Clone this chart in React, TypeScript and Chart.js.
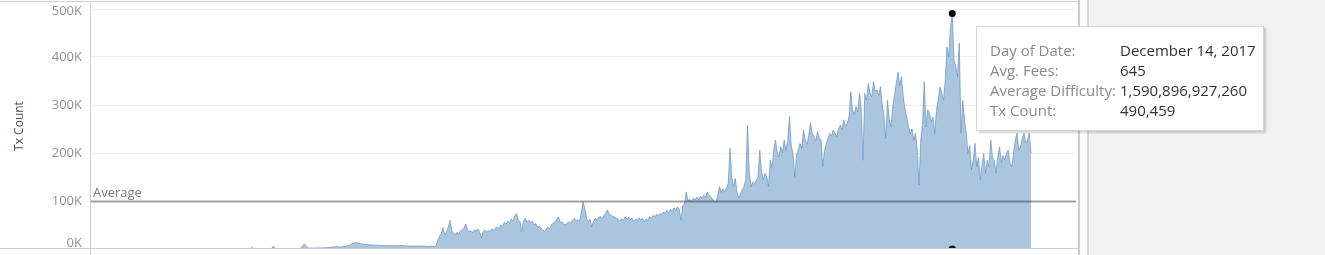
import React, { useEffect, useRef } from "react";
import { Chart, registerables } from "chart.js";

Chart.register(...registerables);

// Weekly samples of daily transaction count (thousands), starting 2009-01-03
const START_DATE = "2009-01-03";
const STEP_DAYS = 7;
const txCountK: number[] = [
  // 2009
  0, 0, 0.1, 0.1, 0.1, 0.1, 0.1, 0.1, 0.1, 0.1, 0.1, 0.1, 0.1, 0.1, 0.1, 0.1, 0.1, 0.1, 0.1, 0.1, 0.1, 0.1, 0.1, 0.1, 0.1, 0.1,
  0.1, 0.1, 0.1, 0.1, 0.1, 0.1, 0.1, 0.1, 0.1, 0.1, 0.1, 0.1, 0.2, 0.2, 0.2, 0.2, 0.2, 0.2, 0.2, 0.2, 0.2, 0.2, 0.2, 0.2, 0.2, 0.2,
  // 2010
  0.2, 0.2, 0.2, 0.2, 0.3, 0.3, 0.3, 0.3, 0.3, 0.3, 0.3, 0.4, 0.4, 0.4, 0.4,
  4,
  0.4, 0.5, 0.5, 0.5, 0.5, 0.5, 0.6, 0.6, 0.6, 0.6, 0.7,
  6,
  0.8, 0.7, 0.7, 0.8, 0.8, 0.8, 0.9, 0.9, 0.9, 1, 1, 1, 1.1, 1.2, 1.2, 1.5,
  8, 10, 5,
  2, 1.8, 1.7, 1.8, 2, 2, 2.2, 2.3, 2.5, 2.5, 2.8, 3,
  3, 3.5, 4, 4.5, 5, 4.5, 4,
  4.5, 5, 5.5, 6, 7, 9,
  11, 12, 13, 13, 12, 11, 10,
  9.5, 9, 9, 8.5, 8.5, 8, 8, 8, 7.5, 7.5,
  7.5, 7, 7, 7, 7, 6.5, 7, 6.5, 6.5, 6.5, 7, 7.5, 7, 6.5, 6.5,
  6.5, 6, 6, 6.5, 6, 6, 6, 6, 6.5, 6, 6, 5.5, 5.5, 6, 6, 5.5, 6,
  // from April 2012
  18, 27, 32, 44, 30, 35, 45, 60, 38, 33,
  29, 35, 32, 38, 40, 44, 52, 40, 36, 38,
  34, 40, 37, 42, 34, 23, 36, 40, 35, 38,
  37, 42, 39, 44, 46, 42, 50, 47, 55, 52,
  58, 55, 62, 58, 70, 74, 60, 57, 36, 58,
  64, 56, 60, 55, 58, 50, 53, 46, 48, 44,
  40, 36, 42, 45, 43, 50, 54, 57, 62, 67,
  55, 57, 52, 50, 54, 57, 53, 60, 64, 58,
  61, 57, 75, 98, 85, 64, 57, 62, 46, 58,
  64, 60, 66, 67, 63, 70, 74, 81, 72, 71,
  66, 68, 64, 62, 58, 63, 60, 67, 62, 66,
  61, 64, 58, 62, 60, 65, 61, 64, 57, 62,
  60, 67, 64, 70, 67, 72, 70, 74, 71, 77,
  74, 80, 76, 83, 78, 86, 80, 88, 82, 60,
  90, 95, 119, 100, 104, 98, 106, 102, 108, 103,
  110, 106, 112, 108, 119, 113, 109, 104, 100, 98,
  112, 130, 118, 125, 119, 128, 137, 210, 150, 130,
  147, 118, 106, 115, 123, 130, 144, 258, 160, 130,
  140, 135, 144, 150, 206, 161, 144, 158, 150, 130,
  185, 170, 206, 227, 200, 192, 213, 200, 227, 206,
  225, 276, 215, 199, 151, 195, 206, 220, 210, 248,
  227, 218, 237, 262, 240, 234, 225, 244, 232, 227,
  172, 205, 220, 230, 241, 235, 248, 240, 234, 250,
  258, 248, 269, 255, 262, 276, 328, 290, 280, 297,
  285, 324, 290, 185, 324, 310, 345, 325, 317, 349,
  330, 331, 320, 338, 300, 275, 230, 310, 270, 254,
  296, 320, 345, 369, 340, 359, 317, 290, 275, 255,
  241, 250, 227, 241, 206, 133, 227, 260, 348, 254,
  290, 283, 265, 275, 241, 290, 310, 338, 325, 310,
  352, 421, 400, 463, 490.459, 394, 380, 359, 429, 241,
  310, 270, 241, 199, 215, 165, 185, 220, 171, 190,
  144, 175, 199, 158, 185, 170, 227, 190, 185, 158,
  190, 213, 180, 195, 185, 200, 206, 178, 171, 200,
  227, 241, 205, 213, 230, 241, 220, 227, 241, 199,
];

const yTicksK = [0, 100, 200, 300, 400, 500];
const averageK = 99;
const xRangeDays = [-180, 3764];
const yRangeK = [0, 512.5];

const tooltipLabels = ["Day of Date:", "Avg. Fees:", "Average Difficulty:", "Tx Count:"];
const tooltipValues = ["December 14, 2017", "645", "1,590,896,927,260", "490,459"];

const FONT = "'Open Sans', 'Noto Sans', sans-serif";
const TICK_COLOR = "#909090";
const FILL_COLOR = "#abc5de";
const LINE_COLOR = "rgba(104,148,196,0.72)";

const overlayPlugin = {
  id: "overlay",
  afterDatasetsDraw(chart: any) {
    const { ctx, chartArea, scales } = chart;
    const yScale = scales.y;
    const yAvg = yScale.getPixelForValue(averageK);
    ctx.save();
    ctx.strokeStyle = "rgba(0,0,0,0.34)";
    ctx.lineWidth = 2;
    ctx.beginPath();
    ctx.moveTo(chartArea.left, yAvg);
    ctx.lineTo(chartArea.right, yAvg);
    ctx.stroke();

    ctx.fillStyle = "#777777";
    ctx.font = `13px ${FONT}`;
    ctx.textAlign = "left";
    ctx.textBaseline = "alphabetic";
    ctx.fillText("Average", chartArea.left + 3, yAvg - 4);

    // first and last tick labels are kept inside the pane
    ctx.font = `13px ${FONT}`;
    ctx.fillStyle = TICK_COLOR;
    ctx.textAlign = "right";
    ctx.textBaseline = "middle";
    [yTicksK[0], yTicksK[yTicksK.length - 1]].forEach((v) => {
      const p = yScale.getPixelForValue(v);
      const yy = Math.min(Math.max(p, chartArea.top + 8.5), chartArea.bottom - 6);
      ctx.fillText(v + "K", yScale.right - 8, yy);
    });
    ctx.restore();
  },
};

export default function App() {
  const canvasRef = useRef<HTMLCanvasElement | null>(null);

  useEffect(() => {
    const canvas = canvasRef.current;
    if (!canvas) return;
    const points = txCountK.map((v, i) => ({ x: i * STEP_DAYS, y: v }));
    let peakIdx = 0;
    txCountK.forEach((v, i) => {
      if (v > txCountK[peakIdx]) peakIdx = i;
    });
    const peakX = peakIdx * STEP_DAYS;

    const chart = new Chart(canvas, {
      type: "line",
      data: {
        datasets: [
          {
            label: "marker",
            data: [
              { x: peakX, y: txCountK[peakIdx] },
              { x: peakX, y: 0 },
            ],
            showLine: false,
            pointRadius: 3.5,
            pointBackgroundColor: "#000",
            pointBorderWidth: 0,
            clip: 0,
          } as any,
          {
            label: "Tx Count",
            data: points,
            borderColor: LINE_COLOR,
            borderWidth: 1,
            backgroundColor: FILL_COLOR,
            fill: "origin",
            pointRadius: 0,
            tension: 0,
          },
        ],
      },
      options: {
        animation: false,
        responsive: false,
        maintainAspectRatio: false,
        devicePixelRatio: 1,
        events: [],
        layout: { autoPadding: false, padding: { top: 3, bottom: 6, left: 0, right: 0 } },
        plugins: {
          legend: { display: false },
          tooltip: { enabled: false },
        },
        scales: {
          x: {
            type: "linear",
            min: xRangeDays[0],
            max: xRangeDays[1],
            display: false,
          },
          y: {
            type: "linear",
            min: yRangeK[0],
            max: yRangeK[1],
            position: "left",
            afterFit: (scale: any) => {
              scale.width = 90;
              scale.paddingTop = 0;
              scale.paddingBottom = 0;
              scale.paddingLeft = 0;
              scale.paddingRight = 0;
            },
            afterBuildTicks: (scale: any) => {
              scale.ticks = yTicksK.map((v) => ({ value: v }));
            },
            border: { display: false },
            grid: {
              drawTicks: false,
              color: (c: any) => (c.tick && c.tick.value === 0 ? "rgba(0,0,0,0)" : "#ececec"),
              lineWidth: 1,
            },
            ticks: {
              padding: 8,
              color: TICK_COLOR,
              font: { family: FONT, size: 13 },
              callback: (v: any) =>
                v === yTicksK[0] || v === yTicksK[yTicksK.length - 1] ? "" : v + "K",
            },
            title: {
              display: true,
              text: "Tx Count",
              color: "#5c4a4a",
              font: { family: FONT, size: 12 },
              padding: { top: 12, bottom: 0 },
            },
          },
        },
      },
      plugins: [overlayPlugin],
    });
    return () => chart.destroy();
  }, []);

  const line = (style: React.CSSProperties) => (
    <div style={{ position: "absolute", zIndex: 2, ...style }} />
  );

  return (
    <div
      style={{
        position: "absolute",
        left: 0,
        top: 0,
        width: 1325,
        height: 255,
        overflow: "hidden",
        background: "#ffffff",
        fontFamily: FONT,
      }}
    >
      <canvas
        ref={canvasRef}
        width={1076}
        height={255}
        style={{ position: "absolute", left: 0, top: 0, width: 1076, height: 255, zIndex: 1 }}
      />
      {line({ left: 0, top: 1, width: 1078, height: 1, background: "#cfcfcf" })}
      {line({ left: 0, top: 248, width: 1078, height: 1, background: "#cfcfcf" })}
      {line({ left: 90, top: 2, width: 1, height: 253, background: "#cfcfcf" })}
      {line({ left: 1078, top: 0, width: 2, height: 255, background: "#cdcdcd" })}
      {line({ left: 1087, top: 0, width: 2, height: 255, background: "#d9d9d9" })}
      {line({ left: 1089, top: 0, width: 236, height: 255, background: "#f1f1f1" })}

      <div
        style={{
          position: "absolute",
          zIndex: 3,
          left: 976,
          top: 26,
          width: 288,
          height: 105,
          background: "#ffffff",
          border: "1px solid #d6d6d6",
          boxShadow: "2px 2px 2px rgba(0,0,0,0.18)",
          boxSizing: "border-box",
        }}
      >
        {tooltipLabels.map((lab, i) => (
          <React.Fragment key={lab}>
            <div
              style={{
                position: "absolute",
                left: 13,
                top: 13 + i * 20,
                fontSize: 15,
                lineHeight: "20px",
                color: "#8a8a8a",
                whiteSpace: "nowrap",
              }}
            >
              {lab}
            </div>
            <div
              style={{
                position: "absolute",
                left: 143,
                top: 13 + i * 20,
                fontSize: 15,
                lineHeight: "20px",
                color: "#333333",
                whiteSpace: "nowrap",
              }}
            >
              {tooltipValues[i]}
            </div>
          </React.Fragment>
        ))}
      </div>
    </div>
  );
}
